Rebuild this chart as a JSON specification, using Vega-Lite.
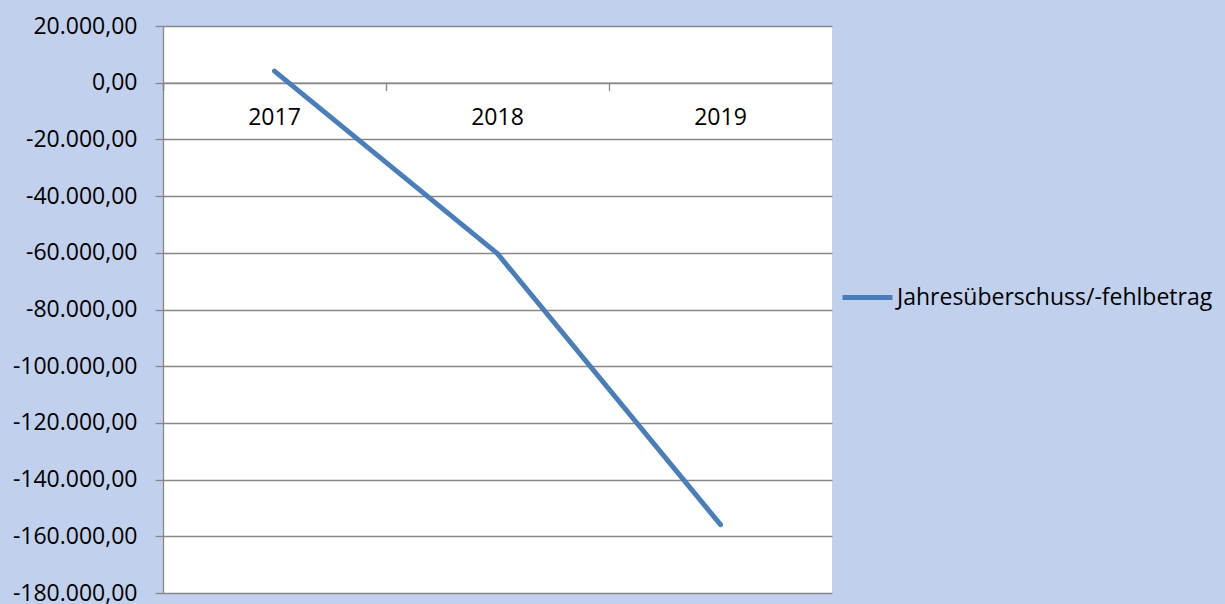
{
  "$schema": "https://vega.github.io/schema/vega-lite/v6.json",
  "autosize": {"type": "none"},
  "width": 669,
  "height": 567,
  "padding": {"left": 163, "top": 26, "right": 393, "bottom": 11},
  "background": "#C1D0EC",
  "config": {
    "locale": {"number": {"decimal": ",", "thousands": ".", "grouping": [3], "currency": ["", " €"], "minus": "-"}},
    "view": {"fill": "white", "stroke": null},
    "font": "Open Sans, sans-serif"
  },
  "data": {"values": [
    {"Jahr": "2017", "Wert": 4100, "Reihe": "Jahresüberschuss/-fehlbetrag"},
    {"Jahr": "2018", "Wert": -60300, "Reihe": "Jahresüberschuss/-fehlbetrag"},
    {"Jahr": "2019", "Wert": -155900, "Reihe": "Jahresüberschuss/-fehlbetrag"}
  ]},
  "mark": {"type": "line", "strokeWidth": 5, "strokeCap": "round", "strokeJoin": "round"},
  "encoding": {
    "x": {
      "field": "Jahr", "type": "nominal",
      "scale": {"type": "band", "paddingInner": 0, "paddingOuter": 0},
      "axis": {
        "title": null, "orient": "bottom", "offset": -510.3,
        "bandPosition": 0, "tickExtra": true, "grid": false,
        "domainColor": "#878787", "domainWidth": 1.3,
        "tickColor": "#878787", "tickWidth": 1.3, "tickSize": 8,
        "labelAngle": 0, "labelFontSize": 23, "labelColor": "#000000",
        "labelPadding": 16, "labelFont": "Open Sans, sans-serif"
      }
    },
    "y": {
      "field": "Wert", "type": "quantitative",
      "scale": {"domain": [-180000, 20000], "nice": false, "zero": false},
      "axis": {
        "title": null,
        "values": [20000, 0, -20000, -40000, -60000, -80000, -100000, -120000, -140000, -160000, -180000],
        "format": ",.2f",
        "grid": true, "gridColor": "#878787", "gridWidth": 1.3,
        "domainColor": "#878787", "domainWidth": 1.3,
        "tickColor": "#878787", "tickWidth": 1.3, "tickSize": 8,
        "labelFontSize": 23, "labelColor": "#000000", "labelPadding": 18,
        "labelFont": "Open Sans, sans-serif"
      }
    },
    "color": {
      "field": "Reihe", "type": "nominal",
      "scale": {"range": ["#4A7EBB"]},
      "legend": {
        "title": null, "orient": "none", "legendX": 677, "legendY": 244,
        "symbolType": "stroke", "symbolStrokeWidth": 5, "symbolSize": 2500,
        "labelFontSize": 23, "labelColor": "#000000", "labelLimit": 0,
        "labelOffset": 2, "labelFont": "Open Sans, sans-serif"
      }
    }
  }
}
